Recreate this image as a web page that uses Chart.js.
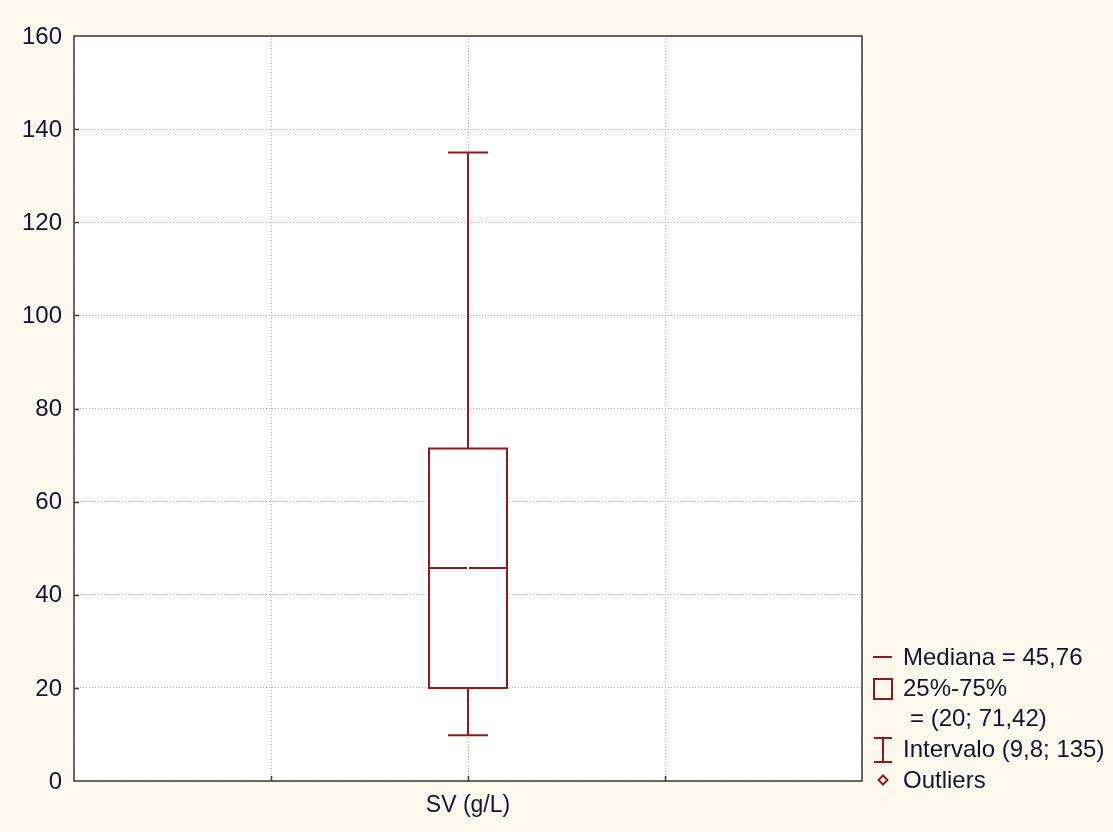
<!DOCTYPE html>
<html>
<head>
<meta charset="utf-8">
<script src="https://cdn.jsdelivr.net/npm/chart.js@4.4.1/dist/chart.umd.min.js"></script>
<style>
  html, body { margin: 0; padding: 0; background: #fdf8ed; }
  canvas { display: block; }
</style>
</head>
<body>
<canvas id="chart" width="1113" height="832"></canvas>
<script>
/* Box plot: SV (g/L) */
(() => {
  "use strict";
  const categories = ["SV (g/L)"];
  const categoryPos = [2];          // position on the 0..4 x scale
  const medians = [45.76];
  const q1s = [20];
  const q3s = [71.42];
  const mins = [9.8];
  const maxs = [135];
  const yTicks = [0, 20, 40, 60, 80, 100, 120, 140, 160];

  const RED = "#931a1a";
  const INK = "#14142e";
  const FONT = "'Liberation Sans', Arial, sans-serif";
  const fmt = (v) => String(v).replace(".", ",");

  const legendItems = [
    { icon: "median", text: `Mediana = ${fmt(medians[0])}` },
    { icon: "box", text: "25%-75%" },
    { icon: null, text: `= (${fmt(q1s[0])}; ${fmt(q3s[0])})` },
    { icon: "range", text: `Intervalo (${fmt(mins[0])}; ${fmt(maxs[0])})` },
    { icon: "outlier", text: "Outliers" },
  ];

  const boxPlot = {
    id: "boxPlot",
    beforeDraw(chart) {
      const { ctx, chartArea: a } = chart;
      ctx.save();
      ctx.fillStyle = "#ffffff";
      ctx.fillRect(a.left, a.top, a.right - a.left, a.bottom - a.top);
      ctx.restore();
    },
    afterDatasetsDraw(chart) {
      const { ctx, chartArea: a, scales: { x, y } } = chart;
      ctx.save();
      ctx.strokeStyle = RED;
      ctx.lineWidth = 2;
      categoryPos.forEach((p, i) => {
        const cx = Math.round(x.getPixelForValue(p));
        const half = 39, cap = 20;
        const yq1 = y.getPixelForValue(q1s[i]), yq3 = y.getPixelForValue(q3s[i]);
        const ymin = y.getPixelForValue(mins[i]), ymax = y.getPixelForValue(maxs[i]);
        const ymed = y.getPixelForValue(medians[i]);
        ctx.fillStyle = "#ffffff";
        ctx.fillRect(cx - half, yq3, half * 2, yq1 - yq3);
        ctx.beginPath();
        ctx.rect(cx - half, yq3, half * 2, yq1 - yq3);
        // whiskers
        ctx.moveTo(cx, yq3); ctx.lineTo(cx, ymax);
        ctx.moveTo(cx - cap, ymax); ctx.lineTo(cx + cap, ymax);
        ctx.moveTo(cx, yq1); ctx.lineTo(cx, ymin);
        ctx.moveTo(cx - cap, ymin); ctx.lineTo(cx + cap, ymin);
        // median (tiny gap in the middle, as in the original)
        ctx.moveTo(cx - half, ymed); ctx.lineTo(cx - 1, ymed);
        ctx.moveTo(cx + 1, ymed); ctx.lineTo(cx + half, ymed);
        ctx.stroke();
      });
      // frame + inner ticks
      ctx.strokeStyle = "#3a3a3a";
      ctx.lineWidth = 1.5;
      ctx.strokeRect(a.left, a.top, a.right - a.left, a.bottom - a.top);
      ctx.beginPath();
      [1, 2, 3].forEach((v) => {
        const px = Math.round(x.getPixelForValue(v)) + 0.5;
        ctx.moveTo(px, a.bottom); ctx.lineTo(px, a.bottom - 5);
      });
      yTicks.slice(1, -1).forEach((v) => {
        const py = Math.round(y.getPixelForValue(v)) + 0.5;
        ctx.moveTo(a.left, py); ctx.lineTo(a.left + 5, py);
      });
      ctx.stroke();
      // legend
      ctx.font = `24px ${FONT}`;
      ctx.textBaseline = "middle";
      ctx.fillStyle = INK;
      const lx = a.right + 11, tx = a.right + 41;
      let ly = 657;
      legendItems.forEach((it) => {
        ctx.strokeStyle = RED;
        ctx.lineWidth = 2;
        ctx.beginPath();
        if (it.icon === "median") {
          ctx.moveTo(lx, ly); ctx.lineTo(lx + 19, ly);
        } else if (it.icon === "box") {
          ctx.rect(lx + 1, ly - 9, 18, 20);
        } else if (it.icon === "range") {
          const c = lx + 10;
          ctx.moveTo(c - 9, ly - 11); ctx.lineTo(c + 9, ly - 11);
          ctx.moveTo(c, ly - 11); ctx.lineTo(c, ly + 13);
          ctx.moveTo(c - 9, ly + 13); ctx.lineTo(c + 9, ly + 13);
        } else if (it.icon === "outlier") {
          const c = lx + 10;
          ctx.moveTo(c, ly - 4.5); ctx.lineTo(c + 4.5, ly); ctx.lineTo(c, ly + 4.5);
          ctx.lineTo(c - 4.5, ly); ctx.closePath();
        }
        ctx.stroke();
        ctx.fillText(it.text, it.icon ? tx : tx + 7, ly + 1);
        ly += it.icon === "box" ? 30 : 31;
      });
      ctx.restore();
    },
  };

  const gridOpts = { color: "#ababab", lineWidth: 1, tickLength: 0 };
  const tickFont = { family: FONT, size: 24 };

  new Chart(document.getElementById("chart"), {
    type: "scatter",
    data: { datasets: [{ data: [], pointRadius: 0 }] },
    options: {
      responsive: false,
      animation: false,
      layout: { padding: { top: 36, right: 251, left: 0, bottom: 0 } },
      plugins: { legend: { display: false }, tooltip: { enabled: false } },
      scales: {
        x: {
          type: "linear", min: 0, max: 4,
          afterFit: (s) => { s.height = 51; },
          afterBuildTicks: (s) => { s.ticks = [0, 1, 2, 3, 4].map((v) => ({ value: v })); },
          border: { display: false, dash: [1, 2] },
          grid: gridOpts,
          ticks: {
            color: INK, font: { family: FONT, size: 23 }, padding: 11,
            callback: (v) => { const i = categoryPos.indexOf(v); return i >= 0 ? categories[i] : ""; },
          },
        },
        y: {
          min: 0, max: 160,
          afterFit: (s) => { s.width = 74; },
          afterBuildTicks: (s) => { s.ticks = yTicks.map((v) => ({ value: v })); },
          border: { display: false, dash: [1, 2] },
          grid: gridOpts,
          ticks: { color: INK, font: tickFont, padding: 12, labelOffset: 1 },
        },
      },
    },
    plugins: [boxPlot],
  });
})();
</script>
</body>
</html>
